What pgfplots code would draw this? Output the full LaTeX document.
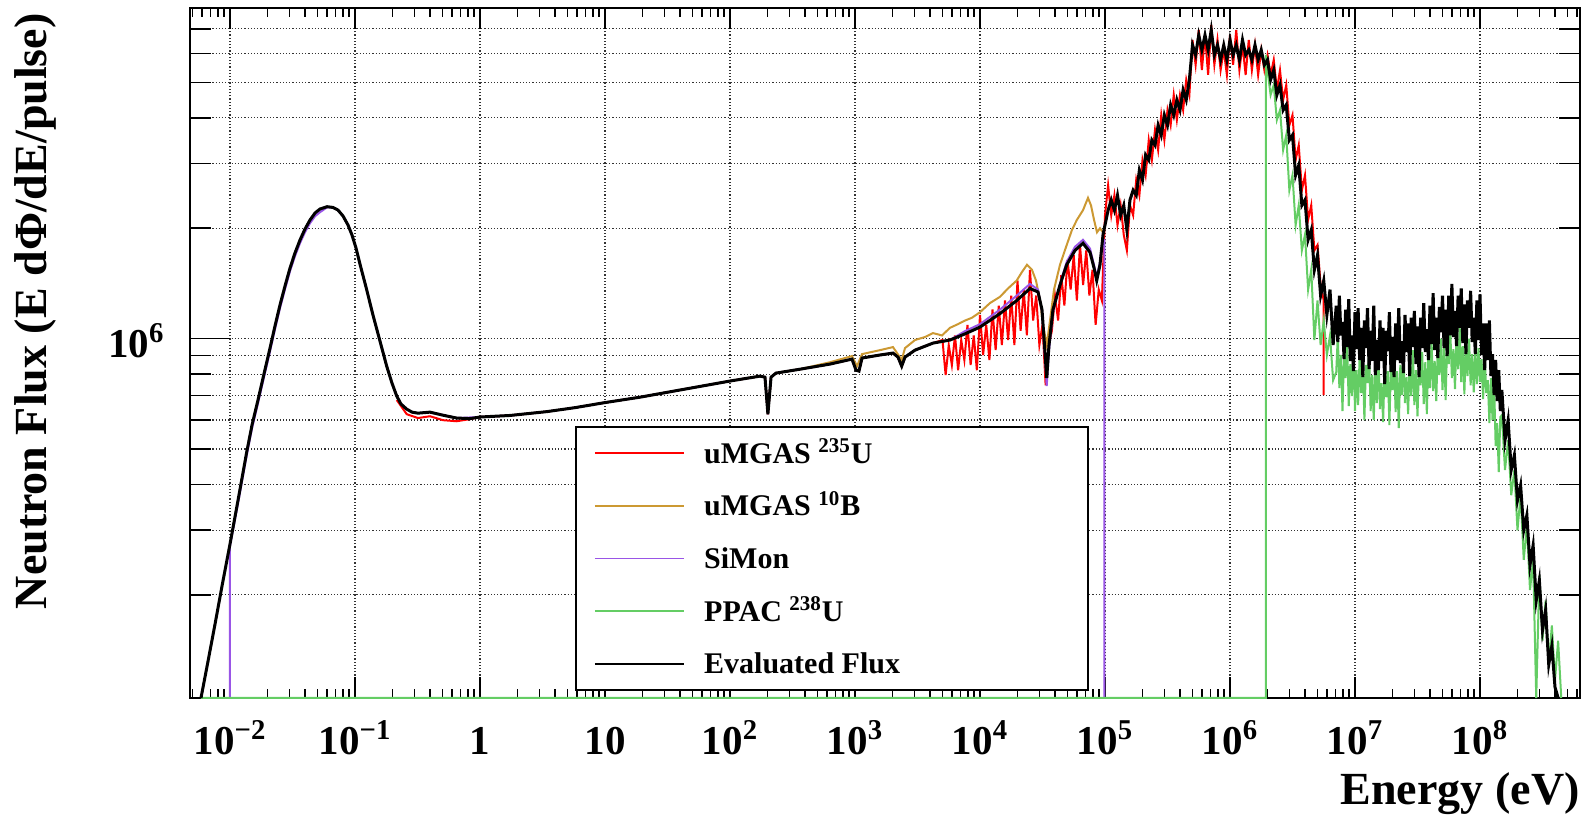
\documentclass[border=0pt]{standalone}
\usepackage{pgfplots}
\pgfplotsset{compat=1.18}
\usepackage{fontspec}
\setmainfont{Liberation Serif}
\definecolor{cRed}{RGB}{255,0,0}
\definecolor{cTan}{RGB}{204,153,51}
\definecolor{cPur}{RGB}{153,85,230}
\definecolor{cGrn}{RGB}{100,205,100}
\begin{document}
\begin{tikzpicture}
\begin{axis}[
  at={(0pt,0pt)}, anchor=south west,
  scale only axis, width=695pt, height=345pt,
  xmode=log, ymode=log,
  xmin=4.786e-3, xmax=6.31e8,
  ymin=1.046e5, ymax=7.98e6,
  clip=false,
  axis line style={line width=1pt},
  xtick={1e-2,1e-1,1,10,100,1e3,1e4,1e5,1e6,1e7,1e8},
  xticklabels={10\textsuperscript{−2},10\textsuperscript{−1},1,10,10\textsuperscript{2},10\textsuperscript{3},10\textsuperscript{4},10\textsuperscript{5},10\textsuperscript{6},10\textsuperscript{7},10\textsuperscript{8}},
  minor xtick={5e-3,6e-3,7e-3,8e-3,9e-3,2e-2,3e-2,4e-2,5e-2,6e-2,7e-2,8e-2,9e-2,0.2,0.3,0.4,0.5,0.6,0.7,0.8,0.9,2,3,4,5,6,7,8,9,20,30,40,50,60,70,80,90,200,300,400,500,600,700,800,900,2e3,3e3,4e3,5e3,6e3,7e3,8e3,9e3,2e4,3e4,4e4,5e4,6e4,7e4,8e4,9e4,2e5,3e5,4e5,5e5,6e5,7e5,8e5,9e5,2e6,3e6,4e6,5e6,6e6,7e6,8e6,9e6,2e7,3e7,4e7,5e7,6e7,7e7,8e7,9e7,2e8,3e8,4e8,5e8,6e8},
  ytick={1e6},
  yticklabels={10\textsuperscript{6}},
  minor ytick={2e5,3e5,4e5,5e5,6e5,7e5,8e5,9e5,2e6,3e6,4e6,5e6,6e6,7e6},
  xmajorgrids=true, xminorgrids=false, ymajorgrids=true, yminorgrids=true,
  grid style={densely dotted, line width=0.6pt, black!80},
  major grid style={densely dotted, line width=0.6pt, black!80},
  minor grid style={densely dotted, line width=0.6pt, black!80},
  tick style={line width=0.8pt, black},
  every major x tick/.append style={/pgfplots/major tick length=10.5pt},
  every minor x tick/.append style={/pgfplots/minor tick length=4.5pt},
  every major y tick/.append style={/pgfplots/major tick length=20pt},
  every minor y tick/.append style={/pgfplots/minor tick length=10.5pt},
  xticklabel style={font=\fontsize{20.5}{24}\selectfont\bfseries, anchor=base, inner sep=0pt, yshift=-28.5pt},
  yticklabel style={font=\fontsize{20.5}{24}\selectfont\bfseries, anchor=base east, inner sep=0pt, xshift=-12.5pt, yshift=-9.3pt},
  xlabel={Energy (eV)},
  xlabel style={at={(axis description cs:1,-0.155)}, anchor=base east, inner sep=0pt, font=\fontsize{23}{27}\selectfont\bfseries},
  ylabel={Neutron Flux (E dΦ/dE/pulse)},
  ylabel style={at={(axis description cs:-0.1029,0.9928)}, anchor=base east, inner sep=0pt, font=\fontsize{23}{27}\selectfont\bfseries},
  legend style={at={(axis description cs:0.277,0.3942)}, anchor=north west, draw=black, line width=1pt, fill=white,
    font=\fontsize{15}{18}\selectfont\bfseries, inner xsep=9pt, inner ysep=0pt, column sep=9.7pt, row sep=0pt,
    nodes={inner sep=0pt, text height=18.15pt, text depth=8.15pt}},
  legend cell align=left,
  legend image code/.code={\draw[#1, line width=0.9pt] (0pt,0pt) -- (44.5pt,0pt);},
]
% uMGAS 235U
\addplot[color=cRed, line width=1pt] coordinates {
(0.2157,6.80e5)(0.2593,6.22e5)(0.319,6.07e5)(0.398,6.14e5)(0.506,5.99e5)(0.651,5.95e5)(0.832,6.03e5)(1.0,6.11e5)(1.738,6.17e5)(3.42,6.32e5)(5.754,6.48e5)(10,6.69e5)(19.05,6.92e5)(39.8,7.24e5)(100,7.66e5)(173.8,7.90e5)(190.5,7.85e5)(201,6.22e5)(213,7.85e5)(233,8.05e5)(363,8.25e5)(631,8.52e5)(946,8.79e5)(1019,8.20e5)(1076,8.15e5)(1138,8.85e5)(1585,9.02e5)(2014,9.13e5)(2208,8.90e5)(2363,8.41e5)(2512,8.90e5)(3020,9.30e5)(4207,9.72e5)
(5.012e3,9.91e5)(5.309e3,7.95e5)(5.623e3,9.60e5)(5.957e3,8.47e5)(6.310e3,1.02e6)(6.683e3,8.20e5)(7.079e3,9.91e5)(7.499e3,8.74e5)(7.943e3,1.09e6)(8.414e3,8.47e5)(8.913e3,1.02e6)(9.441e3,8.20e5)
(1.000e4,1.16e6)(1.059e4,9.02e5)(1.122e4,1.09e6)(1.189e4,8.74e5)(1.259e4,1.20e6)(1.334e4,9.30e5)(1.413e4,1.23e6)(1.496e4,9.60e5)(1.585e4,1.27e6)(1.679e4,9.91e5)(1.778e4,1.31e6)(1.884e4,9.60e5)(1.995e4,1.44e6)(2.113e4,1.05e6)(2.239e4,1.36e6)(2.371e4,1.02e6)(2.512e4,1.54e6)(2.661e4,1.12e6)(2.818e4,1.31e6)(2.985e4,9.60e5)(3.162e4,1.09e6)(3.350e4,7.46e5)(3.548e4,9.60e5)(3.758e4,1.05e6)(3.981e4,1.31e6)(4.217e4,1.12e6)(4.467e4,1.49e6)(4.732e4,1.23e6)(5.012e4,1.64e6)(5.309e4,1.36e6)(5.623e4,1.69e6)(5.957e4,1.27e6)(6.310e4,1.80e6)(6.683e4,1.40e6)(7.079e4,1.74e6)(7.499e4,1.31e6)(7.943e4,1.54e6)(8.414e4,1.09e6)(8.913e4,1.36e6)(9.441e4,1.27e6)
(1.000e5,2.17e6)(1.059e5,2.62e6)(1.122e5,2.17e6)(1.189e5,2.46e6)(1.259e5,2.04e6)(1.334e5,2.31e6)(1.413e5,1.92e6)(1.496e5,1.74e6)(1.585e5,2.31e6)(1.679e5,2.17e6)(1.778e5,2.71e6)(1.884e5,2.46e6)(1.995e5,3.07e6)(2.113e5,2.79e6)(2.239e5,3.48e6)(2.371e5,3.07e6)(2.512e5,3.71e6)(2.661e5,3.27e6)(2.818e5,4.07e6)(2.985e5,3.48e6)(3.162e5,4.20e6)(3.350e5,3.82e6)(3.548e5,4.62e6)(3.758e5,3.95e6)(3.981e5,4.62e6)(4.217e5,4.20e6)(4.467e5,5.08e6)(4.732e5,4.62e6)(5.012e5,6.53e6)(5.309e5,5.58e6)(5.623e5,6.95e6)(5.957e5,5.40e6)(6.310e5,6.73e6)(6.683e5,5.24e6)(7.079e5,7.17e6)(7.499e5,5.58e6)(7.943e5,6.53e6)(8.414e5,5.40e6)(8.913e5,6.13e6)(9.441e5,5.24e6)
(1.000e6,6.73e6)(1.059e6,5.58e6)(1.122e6,6.95e6)(1.189e6,5.40e6)(1.259e6,6.32e6)(1.334e6,5.24e6)(1.413e6,6.53e6)(1.496e6,5.40e6)(1.585e6,6.32e6)(1.679e6,5.24e6)(1.778e6,6.13e6)(1.884e6,5.40e6)(1.995e6,5.94e6)(2.113e6,5.24e6)(2.239e6,5.76e6)(2.371e6,4.77e6)(2.512e6,5.40e6)(2.661e6,4.48e6)(2.818e6,4.92e6)(2.985e6,3.82e6)(3.162e6,4.07e6)(3.350e6,3.07e6)(3.548e6,3.37e6)(3.758e6,2.54e6)(3.981e6,2.79e6)(4.217e6,2.11e6)(4.467e6,2.31e6)(4.732e6,1.74e6)(5.012e6,1.80e6)(5.309e6,1.40e6)(5.623e6,1.27e6)(5.623e6,7.01e5)
};
\addlegendentry{\makebox[183pt][l]{uMGAS \textsuperscript{235}U}}
% uMGAS 10B
\addplot[color=cTan, line width=1pt] coordinates {
(39.8,7.24e5)(100,7.66e5)(173.8,7.90e5)(190.5,7.85e5)(201,6.22e5)(213,7.85e5)(233,8.05e5)(363,8.25e5)(631,8.62e5)(946,8.96e5)(1038,8.41e5)(1138,9.07e5)(1585,9.30e5)(2014,9.48e5)(2363,8.74e5)(2512,9.42e5)(3020,9.91e5)(3631,1.01e6)(4207,1.035e6)(4966,1.02e6)(5754,1.07e6)(6668,1.095e6)(7586,1.12e6)(8630,1.14e6)(1.0e4,1.18e6)(1.202e4,1.25e6)(1.445e4,1.30e6)(1.675e4,1.37e6)(1.966e4,1.44e6)(2.168e4,1.52e6)(2.377e4,1.59e6)(2.606e4,1.54e6)(2.805e4,1.44e6)(3.020e4,1.27e6)(3.192e4,1.09e6)(3.417e4,9.60e5)(3.631e4,1.12e6)(3.908e4,1.36e6)(4.365e4,1.59e6)(4.94e4,1.80e6)(5.445e4,1.98e6)(5.970e4,2.11e6)(6.668e4,2.24e6)(7.311e4,2.42e6)(7.727e4,2.31e6)(8.166e4,2.11e6)(8.630e4,1.95e6)(9.120e4,2.00e6)(9.638e4,1.95e6)
};
\addlegendentry{\makebox[183pt][l]{uMGAS \textsuperscript{10}B}}
% SiMon
\addplot[color=cPur, line width=1pt] coordinates {
(1e-2,1.046e5)(1e-2,2.72e5)(1.159e-2,3.55e5)(1.36e-2,4.80e5)(1.50e-2,5.69e5)(1.675e-2,6.66e5)(1.837e-2,7.64e5)(2.09e-2,9.23e5)(2.29e-2,1.060e6)(2.51e-2,1.209e6)(2.754e-2,1.363e6)(3.02e-2,1.526e6)(3.31e-2,1.678e6)(3.63e-2,1.820e6)(3.98e-2,1.950e6)(4.365e-2,2.064e6)(4.79e-2,2.157e6)(5.25e-2,2.212e6)(5.97e-2,2.28e6)(6.67e-2,2.279e6)(7.31e-2,2.242e6)(8.02e-2,2.160e6)(8.79e-2,2.041e6)(9.46e-2,1.917e6)(0.1019,1.766e6)(0.1096,1.597e6)(0.1225,1.382e6)(0.1393,1.159e6)(0.1585,9.84e5)(0.1793,8.41e5)(0.1977,7.56e5)(0.2157,6.97e5)(0.2333,6.63e5)(0.2593,6.42e5)(0.2858,6.30e5)(0.319,6.26e5)(0.398,6.30e5)(0.651,6.07e5)(1.0,6.11e5)(1.738,6.17e5)(3.42,6.32e5)(5.754,6.48e5)(10,6.69e5)(19.05,6.92e5)(39.8,7.24e5)(100,7.66e5)(173.8,7.90e5)(190.5,7.85e5)(201,6.22e5)(213,7.85e5)(233,8.05e5)(363,8.25e5)(631,8.52e5)(946,8.79e5)(1019,8.20e5)(1076,8.15e5)(1138,8.85e5)(1585,9.02e5)(2014,9.13e5)(2208,8.90e5)(2363,8.41e5)(2512,8.90e5)(3020,9.30e5)(4207,9.72e5)(5754,9.91e5)(7586,1.048e6)(1.0e4,1.095e6)(1.445e4,1.20e6)(1.966e4,1.31e6)(2.512e4,1.41e6)(2.911e4,1.36e6)(3.133e4,1.18e6)(3.281e4,9.30e5)(3.417e4,7.42e5)(3.565e4,9.30e5)(3.837e4,1.18e6)(4.365e4,1.41e6)(4.94e4,1.62e6)(5.754e4,1.78e6)(6.668e4,1.86e6)(7.586e4,1.76e6)(8.166e4,1.59e6)(8.585e4,1.47e6)(9.12e4,1.62e6)(9.64e4,1.86e6)(9.9e4,1.86e6)(9.9e4,1.046e5)
};
\addlegendentry{\makebox[183pt][l]{SiMon}}
% PPAC 238U
\addplot[color=cGrn, line width=1pt] coordinates {
(5.86e-3,1.046e5)(1.94e6,1.046e5)(1.94e6,5.94e6)(1.995e6,5.40e6)(2.113e6,4.62e6)(2.239e6,4.92e6)(2.371e6,3.95e6)(2.512e6,4.20e6)(2.661e6,3.27e6)(2.818e6,3.59e6)(2.985e6,2.54e6)(3.162e6,2.79e6)(3.350e6,2.04e6)(3.548e6,2.31e6)(3.758e6,1.74e6)(3.981e6,1.92e6)(4.217e6,1.36e6)(4.467e6,1.54e6)(4.732e6,9.91e5)(5.012e6,1.27e6)(5.309e6,9.60e5)(5.623e6,1.12e6)(5.957e6,9.02e5)(6.310e6,1.02e6)(6.683e6,7.70e5)
(7.079e6,8.10e5)(7.286e6,1.02e6)(7.499e6,7.33e5)(7.718e6,9.02e5)(7.943e6,6.34e5)(8.175e6,9.13e5)(8.414e6,7.80e5)(8.660e6,9.66e5)(8.913e6,6.54e5)(9.173e6,8.52e5)(9.441e6,6.97e5)(9.716e6,9.66e5)
(1.000e7,6.34e5)(1.029e7,8.20e5)(1.059e7,6.59e5)(1.090e7,9.02e5)(1.122e7,7.10e5)(1.155e7,8.69e5)(1.189e7,5.99e5)(1.223e7,8.47e5)(1.259e7,7.56e5)(1.296e7,9.19e5)(1.334e7,6.34e5)(1.372e7,7.95e5)(1.413e7,5.99e5)(1.454e7,8.47e5)(1.496e7,6.67e5)(1.540e7,9.02e5)(1.585e7,6.42e5)(1.632e7,7.56e5)(1.679e7,5.92e5)(1.728e7,8.52e5)(1.778e7,6.92e5)(1.831e7,8.15e5)(1.884e7,5.81e5)(1.939e7,8.47e5)(1.995e7,7.24e5)(2.054e7,8.79e5)(2.113e7,6.30e5)(2.175e7,8.15e5)(2.239e7,5.70e5)(2.304e7,8.47e5)(2.371e7,7.01e5)(2.441e7,9.02e5)(2.512e7,6.67e5)(2.585e7,7.85e5)(2.661e7,6.22e5)(2.738e7,8.79e5)(2.818e7,6.97e5)(2.901e7,9.30e5)(2.985e7,6.59e5)(3.073e7,8.20e5)(3.162e7,6.14e5)(3.255e7,8.57e5)(3.350e7,7.46e5)(3.447e7,9.19e5)(3.548e7,6.63e5)(3.652e7,8.63e5)(3.758e7,6.22e5)(3.868e7,9.24e5)(3.981e7,7.33e5)(4.097e7,9.84e5)(4.217e7,7.19e5)(4.340e7,8.69e5)(4.467e7,6.75e5)(4.597e7,9.54e5)(4.732e7,7.95e5)(4.870e7,1.00e6)(5.012e7,7.24e5)(5.158e7,9.48e5)(5.309e7,6.80e5)(5.464e7,9.78e5)(5.623e7,8.52e5)(5.788e7,1.05e6)(5.957e7,7.80e5)(6.131e7,9.36e5)(6.310e7,7.28e5)(6.494e7,1.035e6)(6.683e7,8.25e5)(6.879e7,1.075e6)(7.079e7,7.61e5)(7.286e7,9.54e5)(7.499e7,7.05e5)(7.718e7,9.78e5)(7.943e7,7.90e5)(8.175e7,1.00e6)(8.414e7,7.46e5)(8.660e7,9.07e5)(8.913e7,7.14e5)(9.173e7,9.30e5)(9.441e7,7.51e5)(9.716e7,9.42e5)
(1.000e8,7.61e5)(1.029e8,8.79e5)(1.059e8,6.84e5)(1.090e8,8.96e5)(1.122e8,7.10e5)(1.155e8,7.70e5)(1.189e8,5.88e5)(1.223e8,7.80e5)(1.259e8,5.99e5)(1.296e8,7.65e5)(1.334e8,5.09e5)(1.372e8,5.88e5)(1.413e8,4.32e5)(1.454e8,6.11e5)
(1.496e8,6.18e5)(1.585e8,4.38e5)(1.679e8,5.28e5)(1.778e8,3.74e5)(1.884e8,4.38e5)(1.995e8,3.00e5)(2.113e8,3.74e5)(2.239e8,2.49e5)(2.371e8,3.10e5)(2.512e8,2.06e5)(2.661e8,2.49e5)(2.818e8,1.046e5)(2.985e8,2.26e5)(3.162e8,1.50e5)(3.350e8,1.93e5)(3.548e8,1.29e5)(3.758e8,1.65e5)(3.981e8,1.17e5)(4.217e8,1.50e5)(4.467e8,1.046e5)
};
\addlegendentry{\makebox[183pt][l]{PPAC \textsuperscript{238}U}}
% Evaluated Flux
\addplot[color=black, line width=1.5pt] coordinates {
(5.86e-3,1.046e5)(6.67e-3,1.317e5)(7.59e-3,1.663e5)(8.63e-3,2.112e5)(1.0e-2,2.75e5)(1.159e-2,3.62e5)(1.36e-2,4.90e5)(1.50e-2,5.81e5)(1.675e-2,6.80e5)(1.837e-2,7.80e5)(2.09e-2,9.42e5)(2.29e-2,1.082e6)(2.51e-2,1.234e6)(2.754e-2,1.391e6)(3.02e-2,1.557e6)(3.31e-2,1.712e6)(3.63e-2,1.857e6)(3.98e-2,1.990e6)(4.365e-2,2.106e6)(4.79e-2,2.201e6)(5.25e-2,2.257e6)(5.97e-2,2.290e6)(6.67e-2,2.279e6)(7.31e-2,2.242e6)(8.02e-2,2.160e6)(8.79e-2,2.041e6)(9.46e-2,1.917e6)(0.1019,1.766e6)(0.1096,1.597e6)(0.1225,1.382e6)(0.1393,1.159e6)(0.1585,9.84e5)(0.1793,8.41e5)(0.1977,7.56e5)(0.2157,6.97e5)(0.2333,6.63e5)(0.2593,6.42e5)(0.2858,6.30e5)(0.319,6.26e5)(0.398,6.30e5)(0.506,6.18e5)(0.651,6.07e5)(0.832,6.05e5)(1.0,6.11e5)(1.738,6.17e5)(3.42,6.32e5)(5.754,6.48e5)(10,6.69e5)(19.05,6.92e5)(39.8,7.24e5)(100,7.66e5)(173.8,7.90e5)(190.5,7.85e5)(201,6.22e5)(213,7.85e5)(233,8.05e5)(363,8.25e5)(631,8.52e5)(946,8.79e5)(1019,8.20e5)(1076,8.15e5)(1138,8.85e5)(1585,9.02e5)(2014,9.13e5)(2208,8.90e5)(2363,8.41e5)(2512,8.90e5)(3020,9.30e5)(4207,9.72e5)(5754,9.91e5)(7586,1.03e6)(1.0e4,1.075e6)(1.445e4,1.17e6)(1.966e4,1.27e6)(2.512e4,1.37e6)(2.911e4,1.34e6)(3.133e4,1.20e6)(3.281e4,9.60e5)(3.417e4,7.80e5)(3.565e4,9.60e5)(3.837e4,1.20e6)(4.365e4,1.40e6)(4.94e4,1.59e6)(5.754e4,1.74e6)(6.668e4,1.82e6)(7.586e4,1.72e6)(8.166e4,1.56e6)(8.585e4,1.44e6)(9.12e4,1.59e6)(9.64e4,1.92e6)
(1.000e5,2.04e6)(1.059e5,2.24e6)(1.122e5,2.39e6)(1.189e5,2.24e6)(1.259e5,2.46e6)(1.334e5,2.17e6)(1.413e5,2.31e6)(1.496e5,1.98e6)(1.585e5,2.39e6)(1.679e5,2.54e6)(1.778e5,2.46e6)(1.884e5,2.88e6)(1.995e5,2.71e6)(2.113e5,3.17e6)(2.239e5,3.07e6)(2.371e5,3.48e6)(2.512e5,3.37e6)(2.661e5,3.82e6)(2.818e5,3.59e6)(2.985e5,4.07e6)(3.162e5,3.82e6)(3.350e5,4.34e6)(3.548e5,4.07e6)(3.758e5,4.48e6)(3.981e5,4.20e6)(4.217e5,4.77e6)(4.467e5,4.48e6)(4.732e5,5.08e6)(5.012e5,6.32e6)(5.309e5,5.94e6)(5.623e5,6.73e6)(5.957e5,6.13e6)(6.310e5,6.73e6)(6.683e5,6.13e6)(7.079e5,6.95e6)(7.499e5,5.94e6)(7.943e5,6.32e6)(8.414e5,5.76e6)(8.913e5,6.32e6)(9.441e5,5.76e6)
(1.000e6,6.53e6)(1.059e6,5.94e6)(1.122e6,6.32e6)(1.189e6,5.76e6)(1.259e6,6.53e6)(1.334e6,5.94e6)(1.413e6,6.13e6)(1.496e6,5.76e6)(1.585e6,6.32e6)(1.679e6,5.76e6)(1.778e6,6.13e6)(1.884e6,5.58e6)(1.995e6,5.76e6)(2.113e6,5.08e6)(2.239e6,5.40e6)(2.371e6,4.62e6)(2.512e6,4.92e6)(2.661e6,4.20e6)(2.818e6,4.34e6)(2.985e6,3.48e6)(3.162e6,3.59e6)(3.350e6,2.79e6)(3.548e6,2.97e6)(3.758e6,2.31e6)(3.981e6,2.39e6)(4.217e6,1.86e6)(4.467e6,1.98e6)(4.732e6,1.54e6)(5.012e6,1.69e6)(5.309e6,1.31e6)(5.623e6,1.44e6)(5.957e6,1.16e6)(6.310e6,1.36e6)(6.683e6,9.60e5)
(7.079e6,1.23e6)(7.286e6,9.78e5)(7.499e6,1.31e6)(7.718e6,1.02e6)(7.943e6,1.11e6)(8.175e6,8.79e5)(8.414e6,1.20e6)(8.660e6,9.48e5)(8.913e6,1.28e6)(9.173e6,8.68e5)(9.441e6,1.02e6)(9.716e6,8.15e5)
(1.000e7,1.18e6)(1.029e7,9.36e5)(1.059e7,1.21e6)(1.090e7,8.74e5)(1.122e7,1.07e6)(1.155e7,7.85e5)(1.189e7,1.12e6)(1.223e7,9.42e5)(1.259e7,1.21e6)(1.296e7,8.26e5)(1.334e7,1.05e6)(1.372e7,8.69e5)(1.413e7,1.23e6)(1.454e7,7.95e5)(1.496e7,9.91e5)(1.540e7,8.20e5)(1.585e7,1.12e6)(1.632e7,8.69e5)(1.679e7,1.07e6)(1.728e7,7.51e5)(1.778e7,1.05e6)(1.831e7,9.24e5)(1.884e7,1.18e6)(1.939e7,8.10e5)(1.995e7,1.01e6)(2.054e7,7.85e5)(2.113e7,1.10e6)(2.175e7,8.74e5)(2.239e7,1.21e6)(2.304e7,8.57e5)(2.371e7,9.84e5)(2.441e7,8.05e5)(2.512e7,1.16e6)(2.585e7,9.19e5)(2.661e7,1.10e6)(2.738e7,7.90e5)(2.818e7,1.14e6)(2.901e7,9.48e5)(2.985e7,1.19e6)(3.073e7,8.52e5)(3.162e7,1.08e6)(3.255e7,7.85e5)(3.350e7,1.14e6)(3.447e7,9.42e5)(3.548e7,1.25e6)(3.652e7,9.19e5)(3.758e7,1.06e6)(3.868e7,8.74e5)(3.981e7,1.23e6)(4.097e7,9.66e5)(4.217e7,1.33e6)(4.340e7,9.30e5)(4.467e7,1.14e6)(4.597e7,8.85e5)(4.732e7,1.22e6)(4.870e7,1.04e6)(5.012e7,1.31e6)(5.158e7,9.42e5)(5.309e7,1.20e6)(5.464e7,8.96e5)(5.623e7,1.31e6)(5.788e7,1.02e6)(5.957e7,1.41e6)(6.131e7,1.01e6)(6.310e7,1.19e6)(6.494e7,9.54e5)(6.683e7,1.31e6)(6.879e7,1.07e6)(7.079e7,1.37e6)(7.286e7,9.72e5)(7.499e7,1.24e6)(7.718e7,9.07e5)(7.943e7,1.27e6)(8.175e7,1.07e6)(8.414e7,1.35e6)(8.660e7,9.78e5)(8.913e7,1.14e6)(9.173e7,9.07e5)(9.441e7,1.27e6)(9.716e7,9.91e5)
(1.000e8,1.32e6)(1.029e8,9.02e5)(1.059e8,1.10e6)(1.090e8,8.20e5)(1.122e8,1.10e6)(1.155e8,8.74e5)(1.189e8,1.12e6)(1.223e8,7.90e5)(1.259e8,9.07e5)(1.296e8,7.01e5)(1.334e8,8.74e5)(1.372e8,6.75e5)(1.413e8,8.20e5)(1.454e8,6.34e5)
(1.496e8,7.24e5)(1.585e8,5.28e5)(1.679e8,5.99e5)(1.778e8,4.38e5)(1.884e8,4.81e5)(1.995e8,3.62e5)(2.113e8,3.98e5)(2.239e8,3.00e5)(2.371e8,3.30e5)(2.512e8,2.41e5)(2.661e8,2.73e5)(2.818e8,1.93e5)(2.985e8,2.19e5)(3.162e8,1.60e5)(3.350e8,1.82e5)(3.548e8,1.29e5)(3.758e8,1.45e5)(3.981e8,1.12e5)(4.217e8,1.046e5)
};
\addlegendentry{\makebox[183pt][l]{Evaluated Flux}}
\end{axis}
\pgfresetboundingbox
\path[use as bounding box] (-95pt,-59pt) rectangle (697pt,349pt);
\end{tikzpicture}
\end{document}
